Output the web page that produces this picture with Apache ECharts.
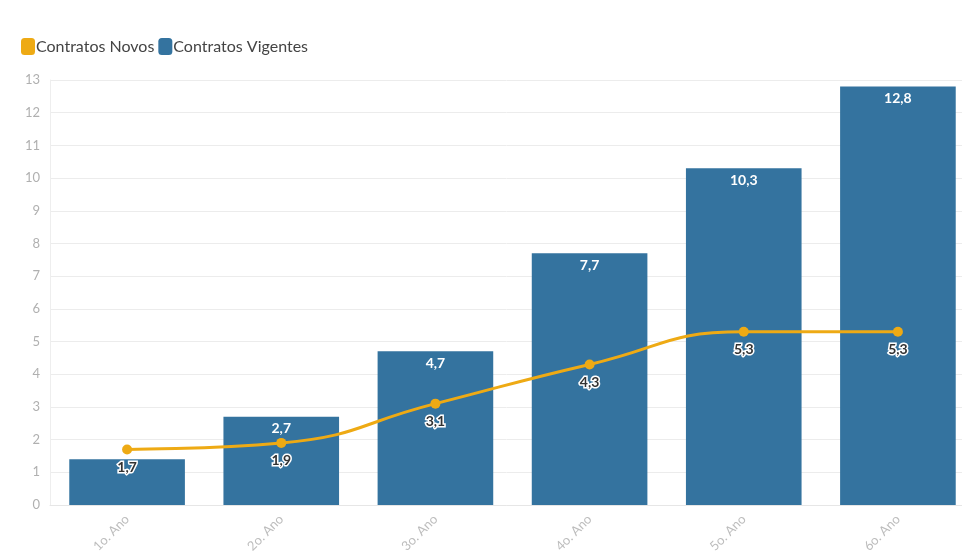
<!DOCTYPE html>
<html>
<head>
<meta charset="utf-8">
<script src="https://cdn.jsdelivr.net/npm/echarts@6/dist/echarts.min.js"></script>
<style>
  html, body { margin: 0; padding: 0; background: #fff; }
  #chart { width: 962px; height: 559px; }
</style>
</head>
<body>
<div id="chart"></div>
<script>
const categories = ['1o. Ano', '2o. Ano', '3o. Ano', '4o. Ano', '5o. Ano', '6o. Ano'];
const contratosNovos = [1.7, 1.9, 3.1, 4.3, 5.3, 5.3];
const contratosVigentes = [1.4, 2.7, 4.7, 7.7, 10.3, 12.8];
const yTicks = { min: 0, max: 13, interval: 1 };

const fmt = v => String(v).replace('.', ',');
const font = 'Lato, "Noto Sans", sans-serif';

const chart = echarts.init(document.getElementById('chart'));
chart.setOption({
  animation: false,
  textStyle: { fontFamily: font },
  legend: {
    left: 16, top: 33,
    itemWidth: 14, itemHeight: 17, itemGap: 4,
    icon: 'roundRect',
    textStyle: { fontSize: 16, color: '#444', fontFamily: font, padding: [0, 0, 0, -4] },
    data: ['Contratos Novos', 'Contratos Vigentes']
  },
  grid: {
    left: 50, right: -13, top: 80, bottom: 54,
    containLabel: false, outerBoundsMode: 'none'
  },
  xAxis: {
    type: 'category',
    data: categories,
    axisLine: { lineStyle: { color: '#e6e6e6' } },
    axisTick: { alignWithLabel: true, lineStyle: { color: '#e6e6e6' } },
    axisLabel: { rotate: 45, color: '#bdbdbd', fontSize: 13, margin: 12 }
  },
  yAxis: {
    type: 'value',
    min: yTicks.min, max: yTicks.max, interval: yTicks.interval,
    axisLine: { show: true, lineStyle: { color: '#eeeeee' } },
    axisTick: { show: false },
    splitLine: { lineStyle: { color: '#ececec' } },
    axisLabel: { color: '#b0b0b0', fontSize: 13, margin: 10 }
  },
  series: [
    {
      name: 'Contratos Vigentes',
      type: 'bar',
      data: contratosVigentes.map((v, i) => i === 0 ? { value: v, label: { show: false } } : v),
      barCategoryGap: '25%',
      itemStyle: { color: '#34739f' },
      label: {
        show: true, position: 'insideTop', distance: 5,
        color: '#fff', fontWeight: 'bold', fontSize: 14,
        formatter: p => fmt(p.value)
      },
      z: 1
    },
    {
      name: 'Contratos Novos',
      type: 'line',
      data: contratosNovos,
      smooth: true,
      symbol: 'circle', symbolSize: 10,
      itemStyle: { color: '#eeaa14' },
      lineStyle: { color: '#eeaa14', width: 3 },
      label: {
        show: true, position: 'bottom', distance: 6,
        color: '#333', fontWeight: 'bold', fontSize: 14,
        textBorderColor: '#fff', textBorderWidth: 3,
        formatter: p => fmt(p.value)
      },
      z: 3
    }
  ]
});
</script>
</body>
</html>
